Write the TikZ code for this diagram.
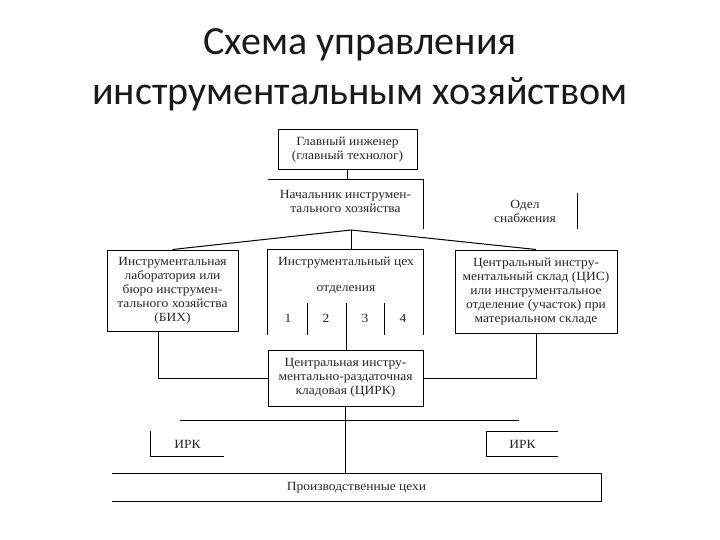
\documentclass[tikz,border=0pt]{standalone}
\usepackage{fontspec}
\setmainfont{Liberation Serif}
\newfontfamily\bodyfont[FakeStretch=1.08]{Liberation Serif}
\newfontfamily\titlefont{Carlito}
\usepackage{tikz}

\tikzset{
  box/.style={draw, line width=1pt, align=center, inner sep=0pt, text=black!85,
    font=\bodyfont\fontsize{12.5}{14}\selectfont},
  lbl/.style={align=center, inner sep=0pt, text=black!85,
    font=\bodyfont\fontsize{12.5}{14}\selectfont},
  ln/.style={line width=1pt},
}

\begin{document}
\begin{tikzpicture}[x=1pt,y=-1pt]
        \useasboundingbox (0,0) rectangle (720,540);
        \node[align=center, font=\titlefont\fontsize{40}{50}\selectfont, text=black!90] (title) at (360,70) {Схема управления\\инструментальным хозяйством};
        \node[box, minimum width=139pt, minimum height=40pt] (glav) at (347.5,150) {Главный инженер\\(главный технолог)};
        \node[lbl, minimum width=155pt, minimum height=42pt] (nach) at (345.5,201) {Начальник инструмен-\\тального хозяйства};
        \node[lbl, minimum width=104pt, minimum height=36pt] (otdel) at (525,211) {Одел\\снабжения};
        \coordinate (apex) at (351,230);
        \node[box, minimum width=131pt, minimum height=81pt] (lab) at (172.5,290.5) {Инструментальная\\лаборатория или\\бюро инструмен-\\тального хозяйства\\(БИХ)};
        \node[lbl, minimum width=155pt, minimum height=85pt] (tsekh) at (345.5,292.5) {};
        \node[lbl] (tsekhname) at (346,263) {Инструментальный цех};
        \node[lbl] (otd) at (346,290) {отделения};
        \node[lbl] (n1) at (288,318) {1};
        \node[lbl] (n2) at (326,318) {2};
        \node[lbl] (n3) at (365,318) {3};
        \node[lbl] (n4) at (403,318) {4};
        \coordinate (d1) at (307,303);
        \coordinate (d2) at (346,303);
        \coordinate (d3) at (384,303);
        \node[box, minimum width=162pt, minimum height=83pt] (sklad) at (536,291.5) {Центральный инстру-\\ментальный склад (ЦИС)\\или инструментальное\\отделение (участок) при\\материальном складе};
        \node[box, minimum width=155pt, minimum height=56pt] (tsirk) at (345.5,378) {Центральная инстру-\\ментально-раздаточная\\кладовая (ЦИРК)};
        \coordinate (busL) at (180,420);
        \coordinate (busR) at (519,420);
        \node[lbl, minimum width=73pt, minimum height=25pt] (irk1) at (187.5,444) {ИРК};
        \node[lbl, minimum width=71pt, minimum height=25pt] (irk2) at (522.5,444) {ИРК};
        \node[lbl, minimum width=489pt, minimum height=27pt] (proizv) at (356.5,487.5) {Производственные цехи};
        % partial frames
        \draw[ln] (nach.north west) -- (nach.north east) -- ++(0,49);
        \draw[ln] (otdel.north east) -- (otdel.south east);
        \draw[ln] (tsekh.south west) -- (tsekh.north west) -- (tsekh.north east) -- (tsekh.south east);
        \draw[ln] (irk1.north west) -- (irk1.south west) -- (irk1.south east);
        \draw[ln] (irk2.north east) -- (irk2.north west) -- (irk2.south west) -- (irk2.south east);
        \draw[ln] (proizv.north west) -- (proizv.north east) -- (proizv.south east) -- (proizv.south west);
        % connectors
        \draw[ln] (glav.south) -- (glav.south |- nach.north);
        \draw[ln] (apex) -- (lab.north);
        \draw[ln] (apex) -- (sklad.north);
        \draw[ln] (apex) -- (apex |- tsekh.north);
        \draw[ln] (d1) -- (d1 |- tsekh.south);
        \draw[ln] (d2) -- (d2 |- tsirk.north);
        \draw[ln] (d3) -- (d3 |- tsekh.south);
        \draw[ln] ([xshift=-14pt]lab.south) |- (tsirk.west);
        \draw[ln] (sklad.south) |- (tsirk.east);
        \draw[ln] (busL) -- (busR);
        \draw[ln] (tsirk.south) -- (tsirk.south |- proizv.north);
    \end{tikzpicture}
\end{document}
